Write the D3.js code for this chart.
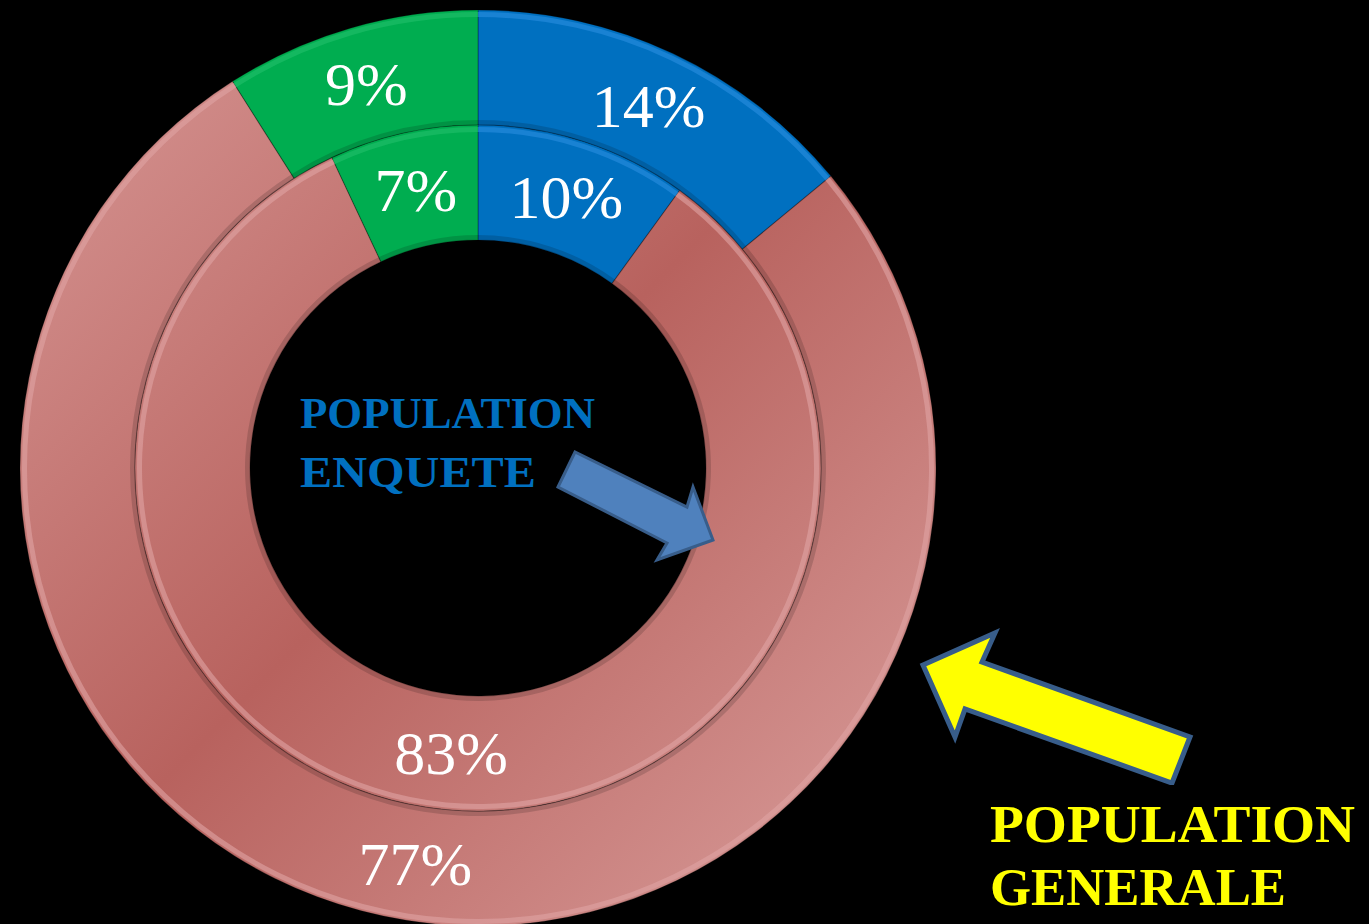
<!DOCTYPE html>
<html>
<head>
<meta charset="utf-8">
<script src="https://cdn.jsdelivr.net/npm/d3@7"></script>
<style>
  html, body { margin: 0; padding: 0; background: #000; }
  svg { display: block; }
</style>
</head>
<body>
<div id="chart"></div>
<script>
var svgWidth = 1369;
var svgHeight = 924;

// data
var categories = ["bleu", "rose", "vert"];
var outerValues = [14, 77, 9];   // population generale
var innerValues = [10, 83, 7];   // population enquete
var outerLabels = ["14%", "77%", "9%"];
var innerLabels = ["10%", "83%", "7%"];

var center = { x: 478, y: 468 };
var rings = {
  outer: { inner: 343, outer: 458 },
  inner: { inner: 228, outer: 343 }
};

var svg = d3.select("#chart")
  .append("svg")
  .attr("width", svgWidth)
  .attr("height", svgHeight);

svg.append("rect")
  .attr("width", svgWidth)
  .attr("height", svgHeight)
  .attr("fill", "#000");

var defs = svg.append("defs");

// pink shading: light top-left and bottom-right, darker on the other diagonal
// (coordinates are relative to the chart group, which sits at the centre)
var pink = defs.append("linearGradient")
  .attr("id", "pinkGrad")
  .attr("gradientUnits", "userSpaceOnUse")
  .attr("x1", -430).attr("y1", -420)
  .attr("x2", 420).attr("y2", 420);
pink.append("stop").attr("offset", "0").attr("stop-color", "#d69593");
pink.append("stop").attr("offset", "0.5").attr("stop-color", "#b8625e");
pink.append("stop").attr("offset", "1").attr("stop-color", "#d89b99");

var colors = d3.scaleOrdinal()
  .domain(categories)
  .range(["#0070c0", "url(#pinkGrad)", "#00ad50"]);
var edgeColors = d3.scaleOrdinal()
  .domain(categories)
  .range(["#2a8ee0", "#e0a4a3", "#22c06a"]);

var pie = d3.pie()
  .sort(null)
  .value(function(d) { return d; });

var chartGroup = svg.append("g")
  .attr("transform", `translate(${center.x}, ${center.y})`);

function drawRing(values, labels, r, cls) {
  var arcs = pie(values);
  var arc = d3.arc().innerRadius(r.inner).outerRadius(r.outer);
  var hiArc = d3.arc().innerRadius(r.outer - 7).outerRadius(r.outer - 2);
  var shadeArc = d3.arc().innerRadius(r.inner).outerRadius(r.inner + 5);

  var g = chartGroup.append("g").attr("class", cls);

  g.selectAll("path.slice")
    .data(arcs)
    .enter()
    .append("path")
    .attr("class", "slice")
    .attr("d", arc)
    .attr("fill", function(d, i) { return colors(categories[i]); })
    .attr("stroke", "rgba(0,0,0,0.25)")
    .attr("stroke-width", 1.2);

  // bevel highlight near outer edge
  g.selectAll("path.hi")
    .data(arcs)
    .enter()
    .append("path")
    .attr("class", "hi")
    .attr("d", hiArc)
    .attr("fill", function(d, i) { return edgeColors(categories[i]); })
    .attr("opacity", 0.6);

  // shadow near inner edge
  g.selectAll("path.shade")
    .data(arcs)
    .enter()
    .append("path")
    .attr("class", "shade")
    .attr("d", shadeArc)
    .attr("fill", "#000")
    .attr("opacity", 0.15);

  g.selectAll("text")
    .data(arcs)
    .enter()
    .append("text")
    .attr("transform", function(d) { return `translate(${arc.centroid(d)})`; })
    .attr("text-anchor", "middle")
    .attr("dy", "0.35em")
    .attr("fill", "#fff")
    .attr("font-family", "'Liberation Serif', 'DejaVu Serif', serif")
    .attr("font-size", 62)
    .text(function(d, i) { return labels[i]; });
}

drawRing(outerValues, outerLabels, rings.outer, "outerRing");
drawRing(innerValues, innerLabels, rings.inner, "innerRing");

// arrows
var line = d3.line();
var blueArrow = [[558, 487], [575, 452], [687, 507], [693, 487], [713, 540], [657, 560], [667, 543]];
svg.append("path")
  .attr("d", line(blueArrow) + "Z")
  .attr("fill", "#4f81bd")
  .attr("stroke", "#385d8a")
  .attr("stroke-width", 3)
  .attr("stroke-linejoin", "miter");

var yellowArrow = [[923, 665], [995, 633], [982, 662], [1190, 737], [1172, 783], [965, 709], [955, 737]];
svg.append("path")
  .attr("d", line(yellowArrow) + "Z")
  .attr("fill", "#ffff00")
  .attr("stroke", "#385d8a")
  .attr("stroke-width", 5)
  .attr("stroke-linejoin", "miter");
// tail cut off above the caption
svg.append("rect")
  .attr("x", 1100).attr("y", 785)
  .attr("width", 150).attr("height", 30)
  .attr("fill", "#000");

// captions
function caption(lines, x, y, size, gap, color, widths) {
  var t = svg.append("text")
    .attr("font-family", "'Liberation Serif', 'DejaVu Serif', serif")
    .attr("font-weight", "bold")
    .attr("font-size", size)
    .attr("fill", color);
  lines.forEach(function(s, i) {
    t.append("tspan")
      .attr("x", x)
      .attr("y", y + i * gap)
      .attr("textLength", widths[i])
      .attr("lengthAdjust", "spacingAndGlyphs")
      .text(s);
  });
}

caption(["POPULATION", "ENQUETE"], 300, 428, 45, 59, "#0070c0", [295, 236]);
caption(["POPULATION", "GENERALE"], 990, 842, 53, 63, "#ffff00", [365, 296]);
</script>
</body>
</html>
